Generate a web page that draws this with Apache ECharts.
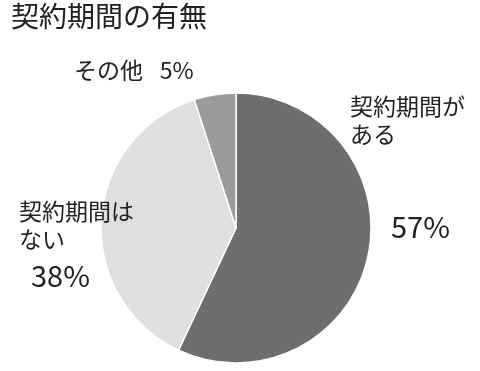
<!DOCTYPE html>
<html><head><meta charset="utf-8">
<script src="https://cdn.jsdelivr.net/npm/echarts@6/dist/echarts.min.js"></script>
<style>html,body{margin:0;padding:0;background:#fff}#c{width:480px;height:371px}</style>
</head><body><div id="c"></div>
<script>
const title = '契約期間の有無';
const names = ['契約期間が\nある', '契約期間は\nない', 'その他'];
const values = [57, 38, 5];
const colors = ['#6e6e6e', '#dfdfdf', '#9b9b9b'];
const FONT = '"Noto Sans CJK JP", "Noto Sans", sans-serif';

// label anchor positions (top-left)
const namePos = [[350, 92], [19, 197], [74, 56]];
const pctPos = [[391, 212], [31, 261], null];

const chart = echarts.init(document.getElementById('c'));
const data = names.map((n, i) => ({ name: n, value: values[i], itemStyle: { color: colors[i] } }));

chart.setOption({
  animation: false,
  title: { text: title, left: 6, top: -3, textStyle: { fontFamily: FONT, fontSize: 28, fontWeight: 'normal', color: '#222' } },
  series: [
    {
      type: 'pie', center: [236, 228], radius: [0, 135], startAngle: 90, clockwise: true,
      silent: true,
      data: data,
      itemStyle: { borderColor: '#fff', borderWidth: 1.5 },
      label: {
        show: true, fontFamily: FONT, fontSize: 23, lineHeight: 28, color: '#222',
        overflow: 'none', width: 300,
        formatter: p => p.dataIndex === 2 ? p.name + '\u2002 ' + p.value + '%' : p.name
      },
      labelLine: { show: false },
      labelLayout: p => ({ x: namePos[p.dataIndex][0], y: namePos[p.dataIndex][1], align: 'left', verticalAlign: 'top' })
    },
    {
      type: 'pie', center: [236, 228], radius: [0, 135], startAngle: 90, clockwise: true,
      silent: true,
      data: names.map((n, i) => ({ name: n, value: values[i], itemStyle: { color: 'rgba(0,0,0,0)' },
        label: { show: pctPos[i] !== null } })),
      itemStyle: { borderWidth: 0 },
      label: { fontFamily: FONT, fontSize: 29, color: '#222', overflow: 'none', width: 200, formatter: p => p.value + '%' },
      labelLine: { show: false },
      labelLayout: p => pctPos[p.dataIndex] ? ({ x: pctPos[p.dataIndex][0], y: pctPos[p.dataIndex][1], align: 'left', verticalAlign: 'top' }) : {}
    }
  ]
});
</script></body></html>
